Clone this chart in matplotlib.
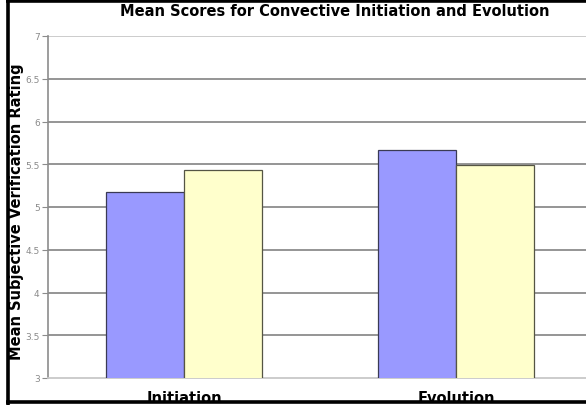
import numpy as np
import matplotlib
matplotlib.use("Agg")
import matplotlib.pyplot as plt
from matplotlib.lines import Line2D
from matplotlib.ticker import FuncFormatter

plt.rcParams['font.family'] = ['DejaVu Sans']

categories = ["Initiation", "Evolution"]
series_a = [5.18, 5.67]   # blue bars
series_b = [5.43, 5.49]   # yellow bars
y_ticks = [3, 3.5, 4, 4.5, 5, 5.5, 6, 6.5, 7]

W, H = 586, 406
fig = plt.figure(figsize=(W / 100, H / 100), dpi=100)
fig.patch.set_facecolor("white")

# plot area runs off the right edge of the figure
ax = fig.add_axes([48 / W, 27 / H, 544 / W, 342 / H])
x = np.arange(len(categories))
bw = 0.286
ax.bar(x - bw / 2, series_a, bw, bottom=0, color="#9999ff", edgecolor="#3a3a55", linewidth=0.9, zorder=3)
ax.bar(x + bw / 2, series_b, bw, bottom=0, color="#ffffcc", edgecolor="#555544", linewidth=0.9, zorder=3)

ax.set_xlim(-0.5, 1.5)
ax.set_ylim(3, 7)
ax.set_yticks(y_ticks)
ax.yaxis.set_major_formatter(FuncFormatter(lambda v, p: "%g" % v))
ax.tick_params(axis="y", length=4, width=0.8, color="#8c8c8c", labelsize=6.5,
               labelcolor="#8a8a8a", pad=2)
ax.set_xticks(x)
ax.set_xticklabels(categories, fontsize=10.5, fontweight="bold")
ax.tick_params(axis="x", length=0, pad=9)

ax.yaxis.grid(True, color="#8c8c8c", linewidth=1.3, zorder=0)
ax.set_axisbelow(True)
grid = ax.get_ygridlines()
grid[-1].set_color("#c8c8c8")
grid[0].set_visible(False)
for side in ["top", "right"]:
    ax.spines[side].set_visible(False)
ax.spines["left"].set_color("#8c8c8c")
ax.spines["left"].set_linewidth(1.2)
ax.spines["bottom"].set_color("#c8c8c8")
ax.spines["bottom"].set_linewidth(1.3)

ax.set_ylabel("Mean Subjective Verification Rating", fontsize=10.5, fontweight="bold", labelpad=0)
ax.yaxis.set_label_coords(-24 / 544, 0.5 - 3.5 / 342)
fig.text(335 / W, 1 - 11 / H, "Mean Scores for Convective Initiation and Evolution",
         ha="center", va="center", fontsize=10.5, fontweight="bold")

# black frame on the left, top and bottom
frame = dict(color="black", linewidth=2.6, solid_capstyle="butt", transform=fig.transFigure)
fig.add_artist(Line2D([7.5 / W, 7.5 / W], [0, 1], **frame))
fig.add_artist(Line2D([6 / W, 1], [1 - 1.5 / H, 1 - 1.5 / H], **frame))
fig.add_artist(Line2D([6 / W, 1], [3 / H, 3 / H], **frame))

fig.savefig("out.png", dpi=100)
